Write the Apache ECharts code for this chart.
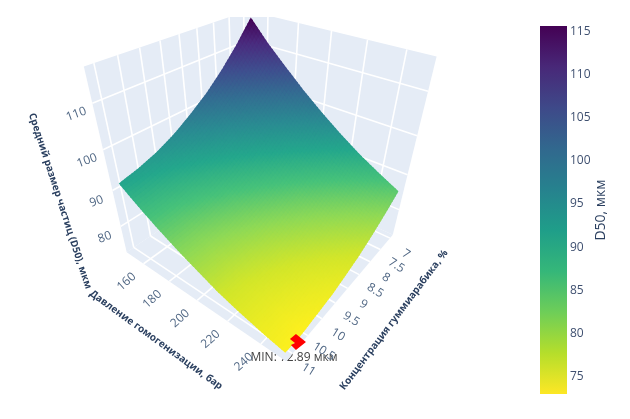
<!DOCTYPE html>
<html><head><meta charset="utf-8"><style>html,body{margin:0;padding:0;background:#fff}#c{width:630px;height:419px}</style>
<script src="https://cdn.jsdelivr.net/npm/echarts@6/dist/echarts.min.js"></script></head>
<body><div id="c"></div><script>
const pressureValues=[151,163.7,176.4,189.1,201.8,214.4,227.1,239.8,252.5];
const concValues=[7,7.52,8.04,8.56,9.08,9.59,10.11,10.63,11.15];
const d50Rows=[
[116.2,111.1,106.7,102.9,99.8,97.1,95.0,93.5,92.5],
[111.1,106.5,102.3,98.8,95.8,93.2,91.3,89.9,89.0],
[106.7,102.2,98.3,94.9,92.0,89.7,87.9,86.6,85.9],
[102.4,98.1,94.5,91.2,88.6,86.4,84.8,83.6,83.1],
[98.5,94.5,91.0,88.0,85.5,83.5,82.0,81.0,80.6],
[94.9,91.1,87.8,84.9,82.7,80.8,79.5,78.6,78.2],
[91.6,88.0,84.9,82.3,80.2,78.5,77.4,76.6,76.4],
[88.7,85.3,82.4,80.0,78.0,76.5,75.5,74.9,74.8],
[86.0,82.9,80.2,77.9,76.2,74.8,74.0,73.2,73.5]];
const pressureTicks=[160,180,200,220,240];
const concTicks=[7,7.5,8,8.5,9,9.5,10,10.5,11];
const d50Ticks=[80,90,100,110];
const colorbarTicks=[75,80,85,90,95,100,105,110,115];
const minPoint=[252.5,10.81,72.89];
const minLabel='MIN: 72.89 мкм';
const viridis=['#fde725','#b5de2b','#6ece58','#35b779','#1f9e89','#26828e','#31688e','#3e4989','#482878','#440154'];
const litViridis=['#fff01e','#d2e62a','#8ed956','#47c27a','#24a78c','#2a8b92','#336e92','#3f4d8e','#4a2b7e','#440154'];
const pRange=[146,254],cRange=[6.85,11.2],zRange=[72,117];
const cam={az:0.6545,el:0.6173,dist:2.2267,focal:451.8929,cx:264.7394,cy:165.04,sy:1.0259,sz:1.0779,roll:-0.0168,kx:1.0486};

function projN(a,b,w){
 const {az,el,dist:d,focal:f,cx,cy,sy,sz,roll,kx}=cam;
 const X=(b-.5),Y=(a-.5)*sy,Z=(w-.5)*sz;
 const e=[d*Math.cos(el)*Math.cos(az),d*Math.cos(el)*Math.sin(az),d*Math.sin(el)];
 const n=Math.hypot(...e),F=[-e[0]/n,-e[1]/n,-e[2]/n];
 let R=[F[1],-F[0],0];const rn=Math.hypot(R[0],R[1]);R=[R[0]/rn,R[1]/rn,0];
 const U=[R[1]*F[2],-R[0]*F[2],R[0]*F[1]-R[1]*F[0]];
 const v=[X-e[0],Y-e[1],Z-e[2]];
 const dep=v[0]*F[0]+v[1]*F[1]+v[2]*F[2];
 const x=f*(v[0]*R[0]+v[1]*R[1])/dep,y=f*(v[0]*U[0]+v[1]*U[1]+v[2]*U[2])/dep;
 return [cx+kx*(x*Math.cos(roll)-y*Math.sin(roll)), cy-(x*Math.sin(roll)+y*Math.cos(roll))];
}
function project(P,C,Z){return projN((P-pRange[0])/(pRange[1]-pRange[0]),(C-cRange[0])/(cRange[1]-cRange[0]),(Z-zRange[0])/(zRange[1]-zRange[0]));}

const chart=echarts.init(document.getElementById('c'),null,{renderer:'canvas'});
const SUB=8,quads=[];
function surf(i,j){
 const i0=Math.min(Math.floor(i),7),j0=Math.min(Math.floor(j),7),s=i-i0,t=j-j0;
 const z=d50Rows[i0][j0]*(1-s)*(1-t)+d50Rows[i0+1][j0]*s*(1-t)+d50Rows[i0][j0+1]*(1-s)*t+d50Rows[i0+1][j0+1]*s*t;
 const P=pressureValues[i0]+(pressureValues[i0+1]-pressureValues[i0])*s;
 const C=concValues[j0]+(concValues[j0+1]-concValues[j0])*t;
 return [P,C,z];
}
for(let i=0;i<8*SUB;i++)for(let j=0;j<8*SUB;j++){
 const a=i/SUB,b=j/SUB,d=1/SUB;
 const m=surf(a+d/2,b+d/2);
 quads.push([a,b,d,m[0],m[2]]);
}
function pt(api,P,C,Z){return api.coord(project(P,C,Z));}
function rWalls(params,api){
 const P0=pRange[0],P1=pRange[1],C0=cRange[0],C1=cRange[1],Z0=zRange[0],Z1=zRange[1];
 const ch=[];
 const poly=(pts)=>ch.push({type:'polygon',shape:{points:pts},style:{fill:'#E5ECF6'}});
 const line=(a,b)=>ch.push({type:'line',shape:{x1:a[0],y1:a[1],x2:b[0],y2:b[1]},style:{stroke:'#fff',lineWidth:1.6}});
 poly([pt(api,P0,C0,Z0),pt(api,P1,C0,Z0),pt(api,P1,C1,Z0),pt(api,P0,C1,Z0)]);
 poly([pt(api,P0,C0,Z0),pt(api,P0,C1,Z0),pt(api,P0,C1,Z1),pt(api,P0,C0,Z1)]);
 poly([pt(api,P0,C0,Z0),pt(api,P1,C0,Z0),pt(api,P1,C0,Z1),pt(api,P0,C0,Z1)]);
 pressureTicks.forEach(P=>{line(pt(api,P,C0,Z0),pt(api,P,C1,Z0));line(pt(api,P,C0,Z0),pt(api,P,C0,Z1));});
 concTicks.forEach(C=>{line(pt(api,P0,C,Z0),pt(api,P1,C,Z0));line(pt(api,P0,C,Z0),pt(api,P0,C,Z1));});
 d50Ticks.forEach(Z=>{line(pt(api,P0,C0,Z),pt(api,P1,C0,Z));line(pt(api,P0,C0,Z),pt(api,P0,C1,Z));});
 return {type:'group',children:ch};
}
function rSurf(params,api){
 const a=api.value(0),b=api.value(1),d=api.value(2);
 const a0=Math.max(0,a-d*.5),b0=Math.max(0,b-d*.5);
 const c=[[a0,b0],[a+d,b0],[a+d,b+d],[a0,b+d]].map(o=>{const s=surf(o[0],o[1]);return pt(api,s[0],s[1],s[2]);});
 return {type:'polygon',shape:{points:c},style:{fill:api.visual('color')}};
}
const markerShape=[[0,-8],[10,0],[0,8],[-5,3],[-1,1],[-6,-3]];
function rMarker(params,api){
 const c=pt(api,api.value(0),api.value(1),api.value(2));
 return {type:'polygon',shape:{points:markerShape.map(o=>[c[0]+o[0],c[1]+o[1]])},style:{fill:'#ff0000'}};
}
const tickColor='#506784',titleColor='#2a3f5f',ff='"Open Sans",sans-serif';
const labels=[];
pressureTicks.forEach(P=>labels.push({value:[P,cRange[1],zRange[0]],text:String(P),dx:-17,dy:18,rot:42,size:12,color:tickColor,weight:'normal'}));
concTicks.forEach(C=>labels.push({value:[pRange[1],C,zRange[0]],text:String(C),dx:16,dy:16,rot:-32,size:12,color:tickColor,weight:'normal'}));
d50Ticks.forEach(Z=>labels.push({value:[pRange[0],cRange[1],Z],text:String(Z),dx:-16,dy:11,rot:20,size:12,color:tickColor,weight:'normal'}));
function rLabel(params,api){
 const l=labels[params.dataIndex];const c=pt(api,l.value[0],l.value[1],l.value[2]);
 return {type:'text',x:c[0]+l.dx,y:c[1]+l.dy,rotation:l.rot*Math.PI/180,style:{text:l.text,fill:l.color,font:l.weight+' '+l.size+'px '+ff,align:'center',verticalAlign:'middle'}};
}
const titleRows=[
 {text:'Средний размер частиц (D50), мкм',x:60,y:201,rot:-72},
 {text:'Давление гомогенизации, бар',x:156,y:340,rot:-36},
 {text:'Концентрация гуммиарабика, %',x:394,y:320,rot:53}];
function rTitle(params,api){
 const l=titleRows[params.dataIndex];const c=api.coord([l.x,l.y]);
 return {type:'text',x:c[0],y:c[1],rotation:l.rot*Math.PI/180,style:{text:l.text,fill:titleColor,font:'bold 10px '+ff,align:'center',verticalAlign:'middle'}};
}
function rMin(params,api){
 const c=pt(api,api.value(0),api.value(1),api.value(2));
 return {type:'text',x:c[0]-2,y:c[1]+16,style:{text:minLabel,fill:'#444',font:'12px '+ff,align:'center',verticalAlign:'middle'}};
}
function rBar(params,api){
 const a=api.coord([0,115.6]),b=api.coord([1,73]);
 const stops=viridis.map((c,i)=>({offset:1-i/(viridis.length-1),color:c}));
 return {type:'rect',shape:{x:a[0],y:a[1],width:b[0]-a[0],height:b[1]-a[1]},style:{fill:new echarts.graphic.LinearGradient(0,0,0,1,stops)}};
}
chart.setOption({animation:false,backgroundColor:'#fff',
 grid:[{left:0,top:17,width:630,height:402,show:false},{left:540,top:26,width:27,height:368,show:false}],
 xAxis:[{type:'value',min:0,max:630,show:false,gridIndex:0},{type:'value',min:0,max:1,show:false,gridIndex:1}],
 yAxis:[{type:'value',min:17,max:419,inverse:true,show:false,gridIndex:0},
  {type:'value',gridIndex:1,min:73,max:115.6,position:'right',axisLine:{show:false},axisTick:{show:false},splitLine:{show:false},
   axisLabel:{customValues:colorbarTicks,color:'#3f5070',fontSize:12,fontFamily:ff,margin:3},
   name:'D50, мкм',nameLocation:'middle',nameRotate:90,nameGap:12,nameTextStyle:{color:'#2a3f5f',fontSize:14,fontFamily:ff}}],
 visualMap:[{type:'continuous',show:false,seriesIndex:2,dimension:4,min:73,max:115.6,inRange:{color:litViridis}}],
 series:[
  {type:'custom',coordinateSystem:'cartesian2d',z:1,renderItem:rMin,data:[minPoint],silent:true},
  {type:'custom',coordinateSystem:'cartesian2d',z:2,clip:true,renderItem:rWalls,data:[[0]],silent:true},
  {type:'custom',coordinateSystem:'cartesian2d',z:3,clip:true,renderItem:rSurf,data:quads,silent:true,progressive:0},
  {type:'custom',coordinateSystem:'cartesian2d',z:4,renderItem:rMarker,data:[minPoint],silent:true},
  {type:'custom',coordinateSystem:'cartesian2d',z:5,renderItem:rLabel,data:labels.map(l=>l.value),silent:true},
  {type:'custom',coordinateSystem:'cartesian2d',z:5,renderItem:rTitle,data:titleRows.map((l,i)=>[i]),silent:true},
  {type:'custom',coordinateSystem:'cartesian2d',xAxisIndex:1,yAxisIndex:1,z:5,renderItem:rBar,data:[[0]],silent:true}
 ]});
</script></body></html>
